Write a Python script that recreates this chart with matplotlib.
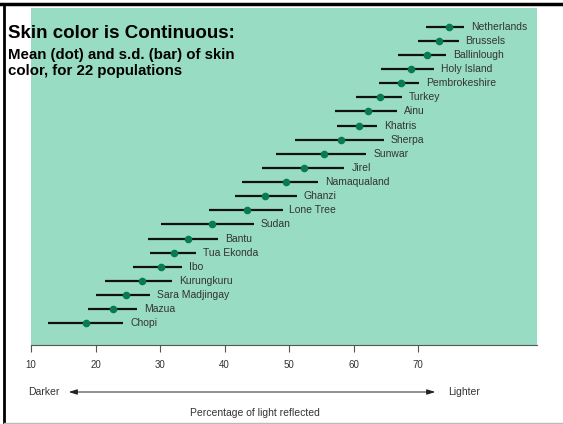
import numpy as np
import matplotlib.pyplot as plt
from matplotlib.lines import Line2D
from matplotlib.patches import FancyArrowPatch

# populations from top (lightest) to bottom (darkest)
populations = ["Netherlands", "Brussels", "Ballinlough", "Holy Island", "Pembrokeshire",
               "Turkey", "Ainu", "Khatris", "Sherpa", "Sunwar", "Jirel", "Namaqualand",
               "Ghanzi", "Lone Tree", "Sudan", "Bantu", "Tua Ekonda", "Ibo", "Kurungkuru",
               "Sara Madjingay", "Mazua", "Chopi"]
mean_val = [74.8, 73.2, 71.4, 68.9, 67.4, 64.1, 62.3, 60.9, 58.0, 55.5, 52.4, 49.5,
            46.3, 43.5, 38.0, 34.3, 32.2, 30.2, 27.2, 24.8, 22.7, 18.5]
low_val = [71.3, 70.0, 66.9, 64.3, 63.9, 60.4, 57.1, 57.4, 51.0, 48.0, 45.8, 42.7,
           41.6, 37.6, 30.2, 28.1, 28.4, 25.8, 21.5, 20.0, 18.9, 12.7]
high_val = [77.1, 76.3, 74.3, 72.5, 70.2, 67.5, 66.8, 63.6, 64.7, 62.0, 58.6, 54.5,
            51.2, 49.0, 44.5, 39.0, 35.6, 33.4, 31.9, 28.4, 26.4, 24.3]
xticks = [10, 20, 30, 40, 50, 60, 70]

W, H = 563, 424
fig = plt.figure(figsize=(W / 100, H / 100), dpi=100)
ax = fig.add_axes([31 / W, (H - 345) / H, (537 - 31) / W, (345 - 8) / H])
ax.set_facecolor("#98dcc3")

ypos = np.arange(len(populations))[::-1]
ax.hlines(ypos, low_val, high_val, color="#111111", lw=1.6, zorder=2)
ax.scatter(mean_val, ypos, s=20, color="#0a7a55", zorder=3)
for name, hi, y in zip(populations, high_val, ypos):
    ax.annotate(name, (hi, y), xytext=(5, 0), textcoords="offset points",
                va="center", ha="left", fontsize=7.5, color="#333333",
                family="Liberation Sans")

ax.set_xlim(10, 10 + (537 - 31) / 6.45)
ax.set_ylim(-1.54, 22.33)
ax.set_yticks([])
ax.set_xticks(xticks)
ax.tick_params(axis="x", direction="out", length=5, width=0.8, color="#555555",
               labelsize=7, labelcolor="#333333", pad=6)
for lbl in ax.get_xticklabels():
    lbl.set_family("Liberation Sans")
for s in ["top", "right", "left"]:
    ax.spines[s].set_visible(False)
ax.spines["bottom"].set_color("#555555")
ax.spines["bottom"].set_linewidth(0.8)

# title text over the panel
fig.text(8 / W, 1 - 33 / H, "Skin color is Continuous:", fontsize=13.5, fontweight="bold",
         va="center", ha="left", family="Liberation Sans")
fig.text(8 / W, 1 - 63 / H, "Mean (dot) and s.d. (bar) of skin\ncolor, for 22 populations",
         fontsize=10.8, fontweight="bold", va="center", ha="left", family="Liberation Sans",
         linespacing=1.1)

# darker / lighter arrow
fig.text(28 / W, 1 - 392 / H, "Darker", fontsize=7.5, color="#333333", va="center",
         family="Liberation Sans")
fig.text(448 / W, 1 - 392 / H, "Lighter", fontsize=7.5, color="#333333", va="center",
         family="Liberation Sans")
fig.patches.append(FancyArrowPatch(
    (66 / W, 1 - 392 / H), (438 / W, 1 - 392 / H), transform=fig.transFigure,
    arrowstyle="<|-|>,head_length=5,head_width=1.6", color="#222222", lw=0.7))
fig.text(255 / W, 1 - 413 / H, "Percentage of light reflected", fontsize=7.5,
         color="#333333", ha="center", va="center", family="Liberation Sans")

# frame lines
fig.add_artist(Line2D([0, 1], [1 - 4 / H, 1 - 4 / H], color="black", lw=2.5))
fig.add_artist(Line2D([4 / W, 4 / W], [0, 1 - 4 / H], color="black", lw=2))
fig.add_artist(Line2D([4 / W, 1], [1 / H, 1 / H], color="#bbbbbb", lw=1))

fig.savefig("out.png", dpi=100)
